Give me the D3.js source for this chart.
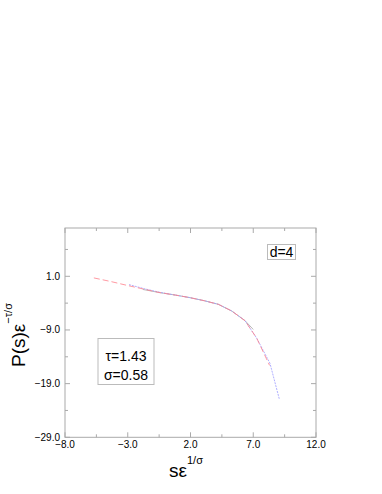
<!DOCTYPE html>
<html lang="en">
<head>
<meta charset="utf-8">
<title>scaling plot</title>
<script src="https://cdn.jsdelivr.net/npm/d3@7"></script>
<style>
  body { margin: 0; background: #fff; }
  text { font-family: "Liberation Sans", Arial, sans-serif; }
</style>
</head>
<body>
<script>
// data
var redX  = [-5.7, -4.3, -2.95, -1.7, -0.43, 0.8, 1.96, 3.1, 4.22, 5.28, 6.34, 7.28, 8.3];
var redY  = [0.7, 0.0, -0.75, -1.4, -2.05, -2.5, -2.98, -3.55, -4.22, -5.46, -7.26, -10.55, -15.6];
var blueX = [-2.9, -1.7, -0.43, 0.8, 1.96, 3.1, 4.22, 5.28, 6.34, 7.28, 8.33, 9.08];
var blueY = [-0.55, -1.3, -2.0, -2.5, -2.98, -3.55, -4.22, -5.46, -7.26, -10.55, -15.2, -21.9];
var grayX = [-1.8, -0.43, 0.8, 1.96, 3.1, 4.22, 5.28, 6.34, 7.0];
var grayY = [-1.45, -2.05, -2.5, -2.98, -3.55, -4.22, -5.46, -7.26, -8.9];
var xTicks = [-8, -3, 2, 7, 12];
var yTicks = [-29, -19, -9, 1];

var w = 382, h = 494;
var svg = d3.select("body").append("svg").attr("width", w).attr("height", h);

var x = d3.scaleLinear().domain([-8, 12]).range([65, 316]);
var y = d3.scaleLinear().domain([-29, 10]).range([437.3, 228]);

var frame = "#aaa";
svg.append("rect")
    .attr("x", x(-8)).attr("y", y(10))
    .attr("width", x(12) - x(-8)).attr("height", y(-29) - y(10))
    .attr("fill", "none").attr("stroke", frame).attr("stroke-width", 1);

// minor ticks between the major ones
var xMinor = xTicks.slice(0, -1).map(function(d) { return d + 2.5; });
var yMinor = [-24, -14, -4, 6];

function ticksX(vals, len) {
    vals.forEach(function(v) {
        svg.append("line").attr("x1", x(v)).attr("x2", x(v))
            .attr("y1", y(-29)).attr("y2", y(-29) - len).attr("stroke", frame);
        svg.append("line").attr("x1", x(v)).attr("x2", x(v))
            .attr("y1", y(10)).attr("y2", y(10) + len).attr("stroke", frame);
    });
}
function ticksY(vals, len) {
    vals.forEach(function(v) {
        svg.append("line").attr("y1", y(v)).attr("y2", y(v))
            .attr("x1", x(-8)).attr("x2", x(-8) + len).attr("stroke", frame);
        svg.append("line").attr("y1", y(v)).attr("y2", y(v))
            .attr("x1", x(12)).attr("x2", x(12) - len).attr("stroke", frame);
    });
}
ticksX(xTicks, 5); ticksX(xMinor, 3);
ticksY(yTicks, 5); ticksY(yMinor, 3);

function fmt(v) { return d3.format(".1f")(v).replace("-", "\u2212"); }

svg.selectAll("text.xt").data(xTicks).enter().append("text")
    .attr("class", "xt")
    .attr("x", function(d) { return x(d); })
    .attr("y", 448)
    .attr("text-anchor", "middle")
    .attr("font-size", 10)
    .text(fmt);

svg.selectAll("text.yt").data(yTicks).enter().append("text")
    .attr("class", "yt")
    .attr("x", 60)
    .attr("y", function(d) { return y(d) + 3.5; })
    .attr("text-anchor", "end")
    .attr("font-size", 10)
    .text(fmt);

// the three curves
var line = d3.line().x(function(d) { return x(d[0]); }).y(function(d) { return y(d[1]); });
function series(xs, ys, color, dash, width) {
    svg.append("path")
        .datum(d3.zip(xs, ys))
        .attr("d", line)
        .attr("fill", "none")
        .attr("stroke", color)
        .attr("stroke-width", width)
        .attr("stroke-dasharray", dash);
}
series(grayX, grayY, "#999", null, 0.7);
series(blueX, blueY, "#9a9aff", "2,1", 0.8);
series(redX, redY, "#ff7f8a", "6,3", 0.8);

// legend boxes
svg.append("rect").attr("x", 267.5).attr("y", 244.5).attr("width", 28).attr("height", 15)
    .attr("fill", "#fff").attr("stroke", "#bbb");
svg.append("text").attr("x", 281.5).attr("y", 257).attr("text-anchor", "middle")
    .attr("font-size", 14).text("d=4");

svg.append("rect").attr("x", 98).attr("y", 338.5).attr("width", 56).attr("height", 46)
    .attr("fill", "#fff").attr("stroke", "#bbb");
svg.append("text").attr("x", 126).attr("y", 361).attr("text-anchor", "middle")
    .attr("font-size", 14).text("\u03c4=1.43");
svg.append("text").attr("x", 126).attr("y", 380).attr("text-anchor", "middle")
    .attr("font-size", 14).text("\u03c3=0.58");

// axis titles
var xl = svg.append("text").attr("x", 169).attr("y", 477).attr("font-size", 19);
xl.append("tspan").text("s\u03b5");
xl.append("tspan").attr("dy", -13).attr("font-size", 11).text("1/\u03c3");

var yl = svg.append("text")
    .attr("transform", "translate(25,367) rotate(-90)")
    .attr("font-size", 19);
yl.append("tspan").text("P(s)\u03b5");
yl.append("tspan").attr("dy", -13).attr("font-size", 11).text("\u2212\u03c4/\u03c3");
</script>
</body>
</html>
